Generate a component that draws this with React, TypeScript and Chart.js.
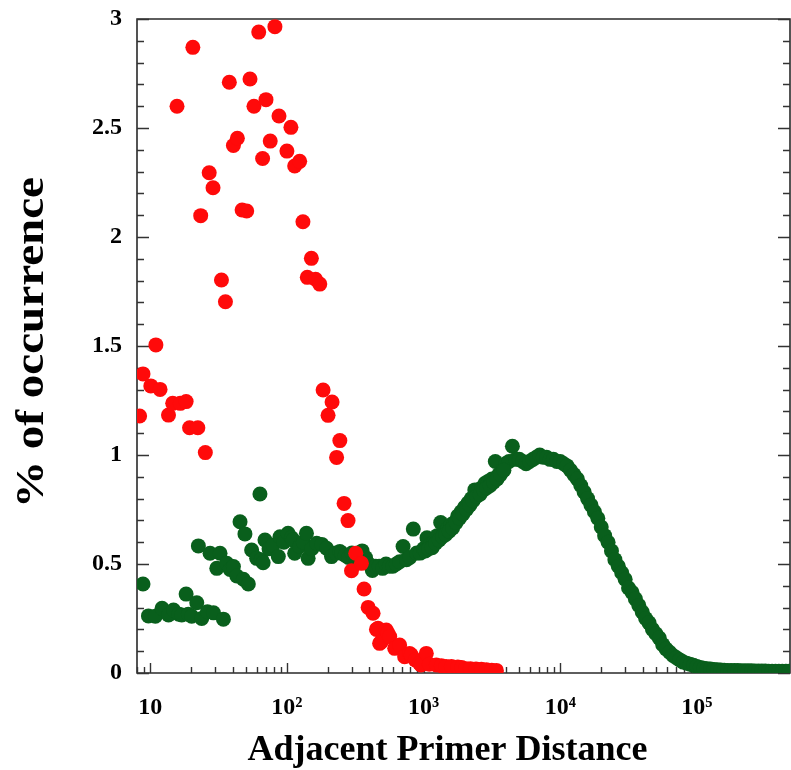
import React, { useEffect, useRef } from "react";
import { Chart, registerables } from "chart.js";

Chart.register(...registerables);

// ---- data ----
const redDistance = [
  8.36, 8.85, 10.1, 11.0, 11.8, 13.6, 14.6, 15.7, 16.6, 18.3,
  19.4, 20.5, 22.3, 23.4, 25.3, 27.0, 28.8, 33.2, 35.5, 37.9,
  40.6, 43.4, 47.0, 50.8, 53.7, 57.4, 62.2, 66.4, 70.3, 75.5,
  81.7, 87.5, 100, 107, 114, 124, 131, 141, 151, 162,
  174, 184, 200, 214, 231, 244, 262, 280, 297, 319,
  351, 367, 393, 427, 452, 464, 477, 493, 533, 548,
  565, 615, 668, 727, 790, 812, 870, 935, 959, 1047,
  1100, 1240, 1350, 1460, 1600, 1780, 1900, 2040, 2200, 2420,
  2650, 2880, 3150, 3410,
];
const redPercent = [
  1.179, 1.372, 1.317, 1.505, 1.301, 1.183, 1.237, 2.6, 1.237, 1.245,
  1.125, 2.87, 1.125, 2.098, 1.011, 2.295, 2.226, 1.803, 1.703, 2.71,
  2.42, 2.453, 2.124, 2.119, 2.725, 2.6, 2.94, 2.36, 2.63, 2.44,
  2.965, 2.555, 2.394, 2.503, 2.326, 2.347, 2.07, 1.815, 1.902, 1.806,
  1.784, 1.298, 1.182, 1.243, 0.989, 1.066, 0.778, 0.699, 0.469, 0.549,
  0.503, 0.385, 0.301, 0.274, 0.2, 0.205, 0.136, 0.144, 0.197, 0.183,
  0.167, 0.113, 0.128, 0.075, 0.09, 0.083, 0.06, 0.044, 0.037, 0.09,
  0.04, 0.037, 0.033, 0.03, 0.03, 0.028, 0.025, 0.02, 0.02, 0.018,
  0.017, 0.015, 0.013, 0.012,
];

const greenDistanceShort = [
  8.85, 9.7, 10.9, 12.2, 13.6, 14.8, 16.2, 17.0, 18.3, 19.0,
  20.1, 21.9, 22.5, 23.8, 26.2, 27.4, 29.0, 30.7, 32.4, 34.3,
  36.3, 38.4, 40.6, 43.0, 45.4, 48.0, 49.3, 52.2, 55.2, 60.1,
  63.5, 65.0, 67.0, 69.1, 74.0, 79.3, 86.5, 89.0, 95.0, 102,
  108, 111, 114, 124, 132, 139, 143, 152, 165, 180,
  195, 212, 228, 244,
];
const greenPercentShort = [
  0.408, 0.262, 0.26, 0.297, 0.266, 0.289, 0.27, 0.266, 0.362, 0.27,
  0.26, 0.322, 0.583, 0.25, 0.281, 0.549, 0.276, 0.48, 0.549, 0.247,
  0.503, 0.475, 0.488, 0.445, 0.694, 0.43, 0.638, 0.408, 0.564, 0.526,
  0.821, 0.52, 0.506, 0.61, 0.57, 0.587, 0.534, 0.625, 0.6, 0.641,
  0.62, 0.61, 0.549, 0.58, 0.6, 0.641, 0.526, 0.57, 0.595, 0.59,
  0.572, 0.534, 0.55, 0.557,
];

const greenDistanceLong = [
  251, 266, 282, 299, 316, 335, 355, 376, 398, 422,
  447, 473, 501, 531, 562, 596, 631, 668, 708, 750,
  794, 841, 891, 944, 1000, 1059, 1122, 1189, 1259, 1334,
  1413, 1496, 1585, 1679, 1778, 1884, 1995, 2113, 2239, 2371,
  2512, 2661, 2818, 2985, 3162, 3350, 3548, 3758, 3981, 4217,
  4467, 4732, 5012, 5309, 5623, 5957, 6310, 6683, 7079, 7499,
  7943, 8414, 8913, 9441, 10000, 10590, 11220, 11890, 12590, 13340,
  14130, 14960, 15850, 16790, 17780, 18840, 19950, 21130, 22390, 23710,
  25120, 26610, 28180, 29850, 31620, 33500, 35480, 37580, 39810, 42170,
  44670, 47320, 50120, 53090, 56230, 59570, 63100, 66830, 70790, 74990,
  79430, 84140, 89130, 94410, 100000, 105900, 112200, 118900, 125900, 133400,
  141300, 149600, 158500, 167900, 177800, 188400, 199500, 211300, 223900, 237100,
  251200, 266100, 281800, 298500, 316200, 335000, 354800, 375800, 398100, 421700,
  446700, 473200,
];
const greenPercentLong = [
  0.55, 0.54, 0.53, 0.55, 0.53, 0.54, 0.56, 0.53, 0.5, 0.47,
  0.49, 0.49, 0.48, 0.5, 0.49, 0.49, 0.5, 0.51, 0.58, 0.52,
  0.53, 0.66, 0.55, 0.55, 0.57, 0.62, 0.59, 0.6, 0.63, 0.69,
  0.64, 0.66, 0.68, 0.69, 0.72, 0.74, 0.76, 0.78, 0.8, 0.84,
  0.84, 0.85, 0.87, 0.88, 0.89, 0.97, 0.91, 0.93, 0.96, 0.97,
  1.04, 0.98, 0.98, 0.97, 0.96, 0.97, 0.98, 0.99, 1.0, 0.99,
  0.99, 0.98, 0.98, 0.97, 0.97, 0.96, 0.95, 0.93, 0.91, 0.89,
  0.86, 0.83, 0.8, 0.77, 0.74, 0.71, 0.67, 0.63, 0.6, 0.56,
  0.52, 0.49, 0.46, 0.43, 0.39, 0.37, 0.34, 0.31, 0.28, 0.25,
  0.23, 0.2, 0.18, 0.16, 0.13, 0.11, 0.095, 0.08, 0.07, 0.06,
  0.05, 0.045, 0.04, 0.035, 0.03, 0.025, 0.022, 0.02, 0.018, 0.016,
  0.015, 0.014, 0.013, 0.012, 0.012, 0.011, 0.011, 0.01, 0.01, 0.01,
  0.01, 0.009, 0.009, 0.009, 0.009, 0.008, 0.008, 0.008, 0.008, 0.008,
  0.008, 0.008,
];

const greenDistanceRise = [
  1030, 1090, 1155, 1225, 1300, 1375, 1455, 1540, 1630, 1730,
  1830, 1940, 2060, 2180, 2300, 2440, 2590, 2740, 2900, 3070,
  3250, 3450, 3650, 3870,
];
const greenPercentRise = [
  0.56, 0.57, 0.575, 0.595, 0.61, 0.625, 0.635, 0.65, 0.665, 0.69,
  0.71, 0.73, 0.75, 0.77, 0.79, 0.81, 0.82, 0.84, 0.85, 0.86,
  0.875, 0.89, 0.91, 0.93,
];

const xTickValues = [10, 100, 1000, 10000, 100000];
const xTickLabels = ["10", "10²", "10³", "10⁴", "10⁵"];
const yTickValues = [0, 0.5, 1, 1.5, 2, 2.5, 3];
const yTickLabels = ["0", "0.5", "1", "1.5", "2", "2.5", "3"];
const xTitle = "Adjacent Primer Distance";
const yTitle = "% of occurrence";

const RED = "rgb(255, 10, 10)";
const GREEN = "rgb(9, 95, 28)";
const FONT = '"Liberation Serif", "Times New Roman", serif';

function toPoints(xs: number[], ys: number[]) {
  return xs.map((x, i) => ({ x, y: ys[i] }));
}

const decorPlugin = {
  id: "decor",
  beforeDatasetsDraw(chart: any) {
    const { ctx, chartArea: a, scales } = chart;
    const xs = scales.x;
    const ys = scales.y;
    ctx.save();
    ctx.strokeStyle = "#2a2a2a";
    ctx.lineWidth = 1.6;
    ctx.beginPath();
    ctx.moveTo(a.left, a.top);
    ctx.lineTo(a.left, a.bottom);
    ctx.lineTo(a.right, a.bottom);
    ctx.lineTo(a.right, a.top);
    ctx.closePath();
    ctx.stroke();
    ctx.lineWidth = 1.4;
    ctx.strokeStyle = "#333";
    ctx.beginPath();
    for (let i = 0; i <= 30; i++) {
      const v = i / 10;
      const y = Math.round(ys.getPixelForValue(v)) + 0.5;
      const len = i % 5 === 0 ? 12 : 7;
      ctx.moveTo(a.left, y);
      ctx.lineTo(a.left + len, y);
      ctx.moveTo(a.right, y);
      ctx.lineTo(a.right - len, y);
    }
    for (let e = 0; e <= 5; e++) {
      for (let d = 1; d <= 9; d++) {
        const v = d * Math.pow(10, e);
        if (v < xs.min || v > xs.max) continue;
        const x = Math.round(xs.getPixelForValue(v)) + 0.5;
        const len = d === 1 ? 10 : 6;
        ctx.moveTo(x, a.bottom);
        ctx.lineTo(x, a.bottom - len);
      }
    }
    ctx.stroke();
    ctx.restore();
  },
  afterDraw(chart: any) {
    const { ctx } = chart;
    ctx.save();
    ctx.fillStyle = "#000";
    // x title
    ctx.font = `bold 36px ${FONT}`;
    ctx.textAlign = "center";
    ctx.textBaseline = "alphabetic";
    ctx.fillText(xTitle, 447.5, 760);
    // y title (slightly elongated along its run, as in the reference)
    ctx.translate(42.5, 342.5);
    ctx.rotate(-Math.PI / 2);
    ctx.font = `bold 40px ${FONT}`;
    const w = ctx.measureText(yTitle).width;
    const sx = 331 / w;
    ctx.scale(sx, 1);
    ctx.textAlign = "center";
    ctx.textBaseline = "alphabetic";
    ctx.fillText(yTitle, 0, 0);
    ctx.restore();
  },
};

export default function App() {
  const ref = useRef<HTMLCanvasElement>(null);
  useEffect(() => {
    if (!ref.current) return;
    const chart = new Chart(ref.current, {
      type: "scatter",
      data: {
        datasets: [
          {
            label: "red",
            data: toPoints(redDistance, redPercent),
            backgroundColor: RED,
            pointRadius: 7.5,
            borderWidth: 0,
            order: 0,
          },
          {
            label: "green",
            data: [
              ...toPoints(greenDistanceShort, greenPercentShort),
              ...toPoints(greenDistanceLong, greenPercentLong),
              ...toPoints(greenDistanceRise, greenPercentRise),
            ],
            backgroundColor: GREEN,
            pointRadius: 7.5,
            borderWidth: 0,
            order: 1,
          },
        ],
      },
      options: {
        responsive: false,
        animation: false,
        layout: { autoPadding: false, padding: { top: 19, right: 1, left: 0, bottom: 0 } },
        plugins: { legend: { display: false }, tooltip: { enabled: false } },
        scales: {
          x: {
            type: "logarithmic",
            min: 8,
            max: 480000,
            grid: { display: false, drawTicks: false },
            border: { display: false },
            afterBuildTicks: (s: any) => {
              s.ticks = xTickValues.map((v) => ({ value: v }));
            },
            afterFit: (s: any) => {
              s.height = 97;
              s.paddingLeft = 0;
              s.paddingRight = 0;
            },
            ticks: {
              autoSkip: false,
              maxRotation: 0,
              padding: 20,
              color: "#000",
              font: { family: FONT, size: 24, weight: "bold" },
              callback: (v: any) => {
                const i = xTickValues.indexOf(Number(v));
                return i >= 0 ? xTickLabels[i] : "";
              },
            },
            title: { display: false },
          },
          y: {
            type: "linear",
            min: 0,
            max: 3,
            grid: { display: false, drawTicks: false },
            border: { display: false },
            afterBuildTicks: (s: any) => {
              s.ticks = yTickValues.map((v) => ({ value: v }));
            },
            afterFit: (s: any) => {
              s.width = 137;
              s.paddingTop = 0;
              s.paddingBottom = 0;
            },
            ticks: {
              padding: 15,
              color: "#000",
              font: { family: FONT, size: 24, weight: "bold" },
              callback: (v: any) => {
                const i = yTickValues.indexOf(Number(v));
                return i >= 0 ? yTickLabels[i] : "";
              },
            },
            title: { display: false },
          },
        },
      },
      plugins: [decorPlugin],
    } as any);
    return () => chart.destroy();
  }, []);
  return (
    <div style={{ position: "absolute", left: 0, top: 0, width: 791, height: 770, background: "#fff" }}>
      <canvas ref={ref} width={791} height={770} style={{ display: "block" }} />
    </div>
  );
}
